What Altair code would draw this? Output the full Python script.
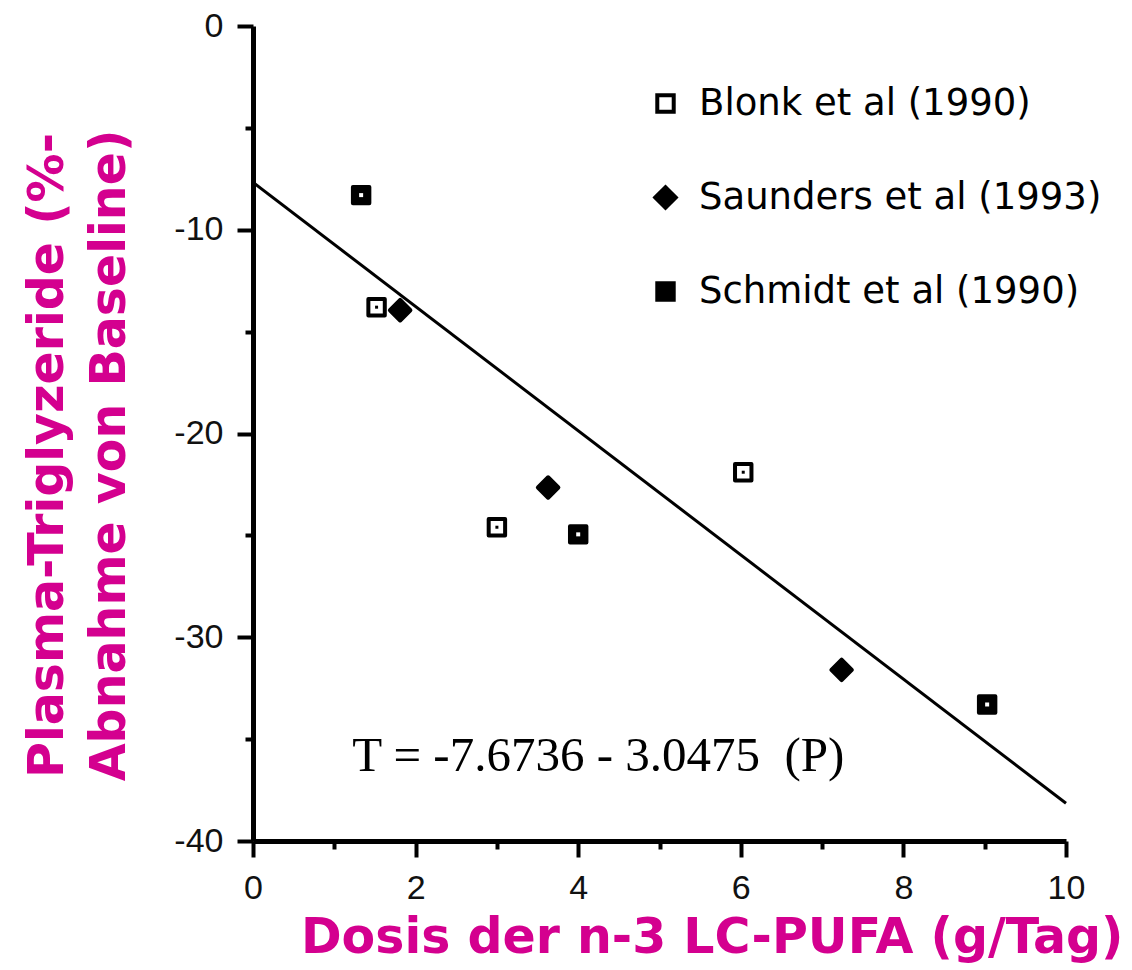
import altair as alt
import pandas as pd

MAG = "#d4008f"

studies = ["Blonk et al (1990)", "Saunders et al (1993)", "Schmidt et al (1990)"]
blonk_x = [1.52, 3.0, 6.03]
blonk_y = [-13.8, -24.6, -21.9]
saunders_x = [1.81, 3.63, 7.24]
saunders_y = [-13.95, -22.65, -31.6]
schmidt_x = [1.33, 4.0, 9.03]
schmidt_y = [-8.3, -24.95, -33.3]

fit_x = [0, 10]
fit_y = [-7.6736, -38.1486]

x_major = [0, 2, 4, 6, 8, 10]
x_minor = [1, 3, 5, 7, 9]
y_major = [0, -10, -20, -30, -40]
y_minor = [-5, -15, -25, -35]

eq_text = ["T = -7.6736 - 3.0475 \u00a0(P)"]
eq_x = [1.22]
eq_y = [-36.56]

x_title = "Dosis der n-3 LC-PUFA (g/Tag)"
y_title = ["Plasma-Triglyzeride (%-", "Abnahme von Baseline)"]

pts = pd.DataFrame({
    "x": blonk_x + saunders_x + schmidt_x,
    "y": blonk_y + saunders_y + schmidt_y,
    "study": [studies[0]] * 3 + [studies[1]] * 3 + [studies[2]] * 3,
})
fit = pd.DataFrame({"x": fit_x, "y": fit_y})
eq = pd.DataFrame({"x": eq_x, "y": eq_y, "t": eq_text})

xs = alt.Scale(domain=[0, 10], nice=False, zero=False)
ys = alt.Scale(domain=[-40, 0], nice=False, zero=False)

common = dict(domainColor="black", tickColor="black", tickWidth=4, grid=False)

x_axis_major = alt.Axis(
    values=x_major, title=x_title, orient="bottom", domainWidth=5, tickSize=16,
    labelFont="Liberation Sans", labelFontSize=34, labelColor="#111", labelPadding=14,
    labelFlush=False,
    titleFont="DejaVu Sans", titleFontWeight="bold", titleFontSize=49, titleColor=MAG,
    titleAlign="right", titleBaseline="alphabetic", titleX=870, titleY=111,
    **common)
y_axis_major = alt.Axis(
    values=y_major, title=y_title, orient="left", domainWidth=5, tickSize=16,
    labelFont="Liberation Sans", labelFontSize=34, labelColor="#111", labelPadding=14,
    labelFlush=False,
    labelExpr="datum.value == 0 ? '0' : '-' + abs(datum.value)",
    titleFont="DejaVu Sans", titleFontWeight="bold", titleFontSize=49, titleColor=MAG,
    titleAngle=270, titleAlign="center", titleBaseline="middle", titleLineHeight=62,
    titleX=-206, titleY=429,
    **common)
x_axis_minor = alt.Axis(values=x_minor, orient="bottom", labels=False, domain=False,
                        tickSize=8, title=None, **common)
y_axis_minor = alt.Axis(values=y_minor, orient="left", labels=False, domain=False,
                        tickSize=8, title=None, **common)

line = alt.Chart(fit).mark_line(color="black", strokeWidth=3).encode(
    x=alt.X("x:Q", scale=xs, axis=x_axis_major),
    y=alt.Y("y:Q", scale=ys, axis=y_axis_major),
)

leg = alt.Legend(
    orient="none", legendX=394, legendY=59, title=None, padding=0,
    labelFont="DejaVu Sans", labelFontSize=37, labelColor="black", labelLimit=600,
    symbolStrokeWidth=4, symbolStrokeColor="black",
    rowPadding=56, labelOffset=15,
)

points = alt.Chart(pts).mark_point(strokeWidth=4, opacity=1,
                                   strokeJoin="round").encode(
    x=alt.X("x:Q", scale=xs, axis=x_axis_minor),
    y=alt.Y("y:Q", scale=ys, axis=y_axis_minor),
    shape=alt.Shape("study:N", scale=alt.Scale(domain=studies,
                    range=["square", "diamond", "square"]), legend=leg),
    fill=alt.Fill("study:N", scale=alt.Scale(domain=studies,
                  range=["white", "black", "black"]), legend=leg),
    stroke=alt.Stroke("study:N", scale=alt.Scale(domain=studies,
                      range=["black", "black", "black"]), legend=leg),
    size=alt.Size("study:N", scale=alt.Scale(type="ordinal", domain=studies,
                  range=[270, 420, 270]), legend=leg),
)

blonk_dots = alt.Chart(pts).transform_filter(
    alt.datum.study == studies[0]).mark_point(
    shape="square", size=9, filled=True, color="black", opacity=1).encode(
    x=alt.X("x:Q", scale=xs, axis=None),
    y=alt.Y("y:Q", scale=ys, axis=None),
)
schmidt_dots = alt.Chart(pts).transform_filter(
    alt.datum.study == studies[2]).mark_point(
    shape="square", size=16, filled=True, color="white", opacity=1).encode(
    x=alt.X("x:Q", scale=xs, axis=None),
    y=alt.Y("y:Q", scale=ys, axis=None),
)

eq_text_layer = alt.Chart(eq).mark_text(
    font="Liberation Serif", fontSize=49, align="left", baseline="alphabetic",
    color="black").encode(
    x=alt.X("x:Q", scale=xs, axis=None),
    y=alt.Y("y:Q", scale=ys, axis=None),
    text="t:N",
)

chart = alt.layer(line, points, blonk_dots, schmidt_dots, eq_text_layer).resolve_axis(
    x="independent", y="independent"
).properties(
    width=813, height=815, autosize="none",
    padding={"left": 245, "top": 18, "right": 58, "bottom": 126},
    background="white",
).configure_view(stroke=None)

chart.save("out.html", embed_options={"renderer": "svg", "actions": False})
